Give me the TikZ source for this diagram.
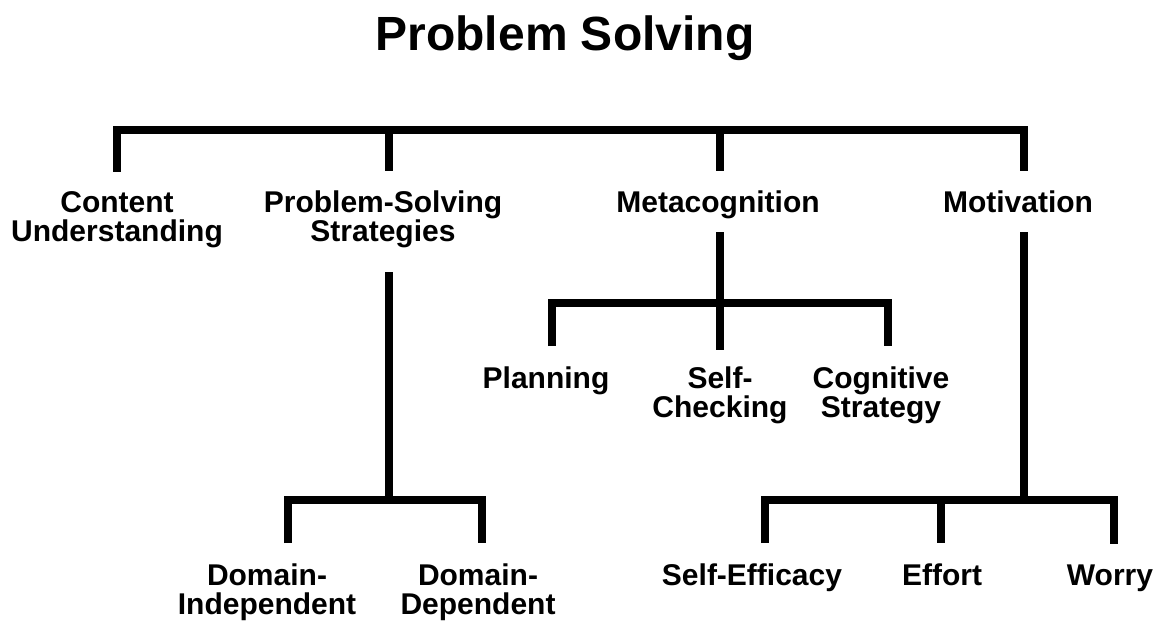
\documentclass[tikz,border=0pt]{standalone}
\usepackage{fontspec}
\setmainfont{Liberation Sans}
\begin{document}
\begin{tikzpicture}[x=0.75pt, y=-0.75pt,
    heading/.style={font=\bfseries\fontsize{36pt}{40pt}\selectfont, anchor=base, inner sep=0pt},
    topic/.style={font=\bfseries\fontsize{22.5pt}{21.75pt}\selectfont, align=center, anchor=base, inner sep=0pt},
    branch/.style={line width=6pt},
    tolabel/.style={shorten >=15pt}]
    \useasboundingbox (0,0) rectangle (1156,622);

    \node[heading] (root) at (565,50) {Problem Solving};

    % first level (two-line nodes sit on their last baseline)
    \node[topic] (content) at (117,241) {Content\\Understanding};
    \node[topic] (strategies) at (383,241) {Problem-Solving\\Strategies};
    \node[topic] (meta) at (718,212) {Metacognition};
    \node[topic] (motiv) at (1018,212) {Motivation};

    % second level
    \node[topic] (planning) at (546,388) {Planning};
    \node[topic] (checking) at (720,417) {Self-\\Checking};
    \node[topic] (cogstrat) at (881,417) {Cognitive\\Strategy};

    % third level
    \node[topic] (indep) at (267,614) {Domain-\\Independent};
    \node[topic] (dep) at (478,614) {Domain-\\Dependent};
    \node[topic] (efficacy) at (752,585) {Self-Efficacy};
    \node[topic] (effort) at (942,585) {Effort};
    \node[topic] (worry) at (1110,585) {Worry};

    % bar junctions
    \coordinate (t-content) at (117,130);
    \coordinate (t-strat) at (389,130);
    \coordinate (t-meta) at (720,130);
    \coordinate (t-motiv) at (1024,130);
    \coordinate (m-plan) at (552,303);
    \coordinate (m-check) at (720,303);
    \coordinate (m-cog) at (888,303);
    \coordinate (s-indep) at (288,500);
    \coordinate (s-mid) at (389,500);
    \coordinate (s-dep) at (482,500);
    \coordinate (v-eff) at (765,500);
    \coordinate (v-mid) at (1024,500);
    \coordinate (v-effort) at (941,500);
    \coordinate (v-worry) at (1114,500);

    % top bar
    \draw[branch, shorten <=14.25pt, shorten >=14.25pt] (content.north -| t-content) -- (t-content) -- (t-motiv) -- (motiv.north -| t-motiv);
    \draw[branch, shorten >=14.25pt] (t-strat) -- (strategies.north -| t-strat);
    \draw[branch, shorten >=14.25pt] (t-meta) -- (meta.north -| t-meta);

    % metacognition
    \draw[branch, shorten <=10.3pt, shorten >=12pt] (meta.south -| m-check) -- (checking.north -| m-check);
    \draw[branch, tolabel, shorten <=15pt] (planning.north -| m-plan) -- (m-plan) -- (m-cog) -- (cogstrat.north -| m-cog);

    % strategies
    \draw[branch, shorten <=18.5pt] (strategies.south -| s-mid) -- (s-mid);
    \draw[branch, tolabel, shorten <=15pt] (indep.north -| s-indep) -- (s-indep) -- (s-dep) -- (dep.north -| s-dep);

    % motivation
    \draw[branch, shorten <=14.8pt] (motiv.south -| v-mid) -- (v-mid);
    \draw[branch, tolabel, shorten <=15pt] (efficacy.north -| v-eff) -- (v-eff) -- (v-worry) -- (worry.north -| v-worry);
    \draw[branch, tolabel] (v-effort) -- (effort.north -| v-effort);
\end{tikzpicture}
\end{document}
